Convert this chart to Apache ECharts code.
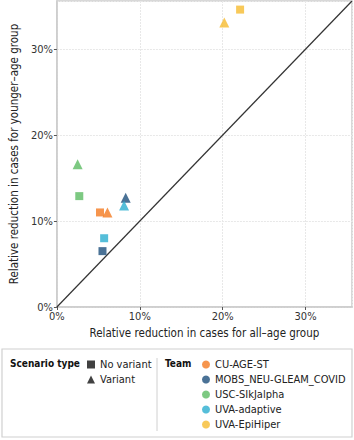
<!DOCTYPE html>
<html>
<head>
<meta charset="utf-8">
<script src="https://cdn.jsdelivr.net/npm/echarts@6/dist/echarts.min.js"></script>
<style>
  html, body { margin: 0; padding: 0; background: #fff; }
  #chart { width: 354px; height: 440px; }
</style>
</head>
<body>
<div id="chart"></div>
<script>
// teams + colours
const teams = ['CU-AGE-ST', 'MOBS_NEU-GLEAM_COVID', 'USC-SIkJalpha', 'UVA-adaptive', 'UVA-EpiHiper']
const teamColors = ['#f47b20', '#1d4f7c', '#5dbb63', '#2aaed0', '#f6bb2f']

// relative reduction (%), one value per team
const noVariantAll = [5.2, 5.5, 2.7, 5.7, 22.1]
const noVariantYoung = [11.0, 6.5, 12.9, 8.0, 34.6]
const variantAll = [6.1, 8.3, 2.5, 8.1, 20.2]
const variantYoung = [11.0, 12.7, 16.6, 11.8, 33.1]

const scenarios = ['No variant', 'Variant']
const axisTicks = [0, 10, 20, 30]
const axisMax = 35.6
// y = x reference
const identityLine = [[0, 0], [axisMax, axisMax]]

const FONT = '"DejaVu Sans Condensed", "Roboto", sans-serif'

let chart = echarts.init(document.getElementById('chart'), null, { renderer: 'svg' })

let series = teams.map(function(team, i) {
  return {
    name: team,
    type: 'scatter',
    z: 5,
    itemStyle: { color: teamColors[i] },
    data: [
      { value: [noVariantAll[i], noVariantYoung[i]], symbol: 'rect', symbolSize: 8 },
      { value: [variantAll[i], variantYoung[i]], symbol: 'triangle', symbolSize: 10 }
    ]
  }
})

// dummy series so the scenario legend has something to point at
series.push({ name: scenarios[0], type: 'scatter', symbol: 'rect', itemStyle: { color: '#111' }, data: [] })
series.push({ name: scenarios[1], type: 'scatter', symbol: 'triangle', itemStyle: { color: '#111' }, data: [] })

series.push({
  name: 'identity',
  type: 'line',
  silent: true,
  symbol: 'none',
  z: 3,
  lineStyle: { color: '#333', width: 1.2 },
  data: identityLine
})

let axisCommon = {
  type: 'value',
  min: 0,
  max: axisMax,
  interval: 10,
  nameLocation: 'middle',
  nameTextStyle: { fontFamily: FONT, fontSize: 11.5, color: '#222' },
  axisLine: { show: true, lineStyle: { color: '#cccccc', width: 1.5 } },
  axisTick: { show: true, length: 3, lineStyle: { color: '#555' } },
  splitLine: { show: true, lineStyle: { color: '#e8e8e8', type: [2, 1] } },
  axisLabel: {
    fontFamily: FONT,
    fontSize: 11,
    color: '#333',
    margin: 4,
    showMaxLabel: false,
    formatter: function(v) { return axisTicks.indexOf(v) > -1 ? v + '%' : '' }
  }
}

let legendText = { fontFamily: FONT, fontSize: 11, color: '#222', lineHeight: 15 }

chart.setOption({
  animation: false,
  grid: { left: 45, right: 2, top: 1, bottom: 133, show: true, borderColor: '#cccccc', borderWidth: 1.5 },
  xAxis: Object.assign({}, axisCommon, {
    name: 'Relative reduction in cases for all\u2013age group',
    nameGap: 18
  }),
  yAxis: Object.assign({}, axisCommon, {
    name: 'Relative reduction in cases for younger\u2013age group',
    nameGap: 36
  }),
  legend: [
    {
      orient: 'vertical',
      left: 87,
      top: 357,
      height: 40,
      padding: 0,
      itemWidth: 8,
      itemHeight: 8,
      itemGap: 0,
      textStyle: legendText,
      selectedMode: false,
      data: [
        { name: scenarios[0], icon: 'rect' },
        { name: scenarios[1], icon: 'triangle' }
      ]
    },
    {
      orient: 'vertical',
      left: 202,
      top: 357,
      height: 80,
      padding: 0,
      itemWidth: 8,
      itemHeight: 8,
      itemGap: 0,
      textStyle: legendText,
      selectedMode: false,
      data: teams.map(function(t) { return { name: t, icon: 'circle' } })
    }
  ],
  graphic: [
    {
      type: 'rect',
      shape: { x: 2, y: 349, width: 350, height: 88 },
      style: { fill: 'none', stroke: '#d0d0d0', lineWidth: 1.2 }
    },
    {
      type: 'line',
      shape: { x1: 157, y1: 358, x2: 157, y2: 431 },
      style: { stroke: '#d0d0d0', lineWidth: 1 }
    },
    {
      type: 'text',
      left: 10,
      top: 358,
      style: { text: 'Scenario type', font: 'bold 10px ' + FONT, fill: '#111' }
    },
    {
      type: 'text',
      left: 165,
      top: 358,
      style: { text: 'Team', font: 'bold 10px ' + FONT, fill: '#111' }
    }
  ],
  series: series
})
</script>
</body>
</html>
